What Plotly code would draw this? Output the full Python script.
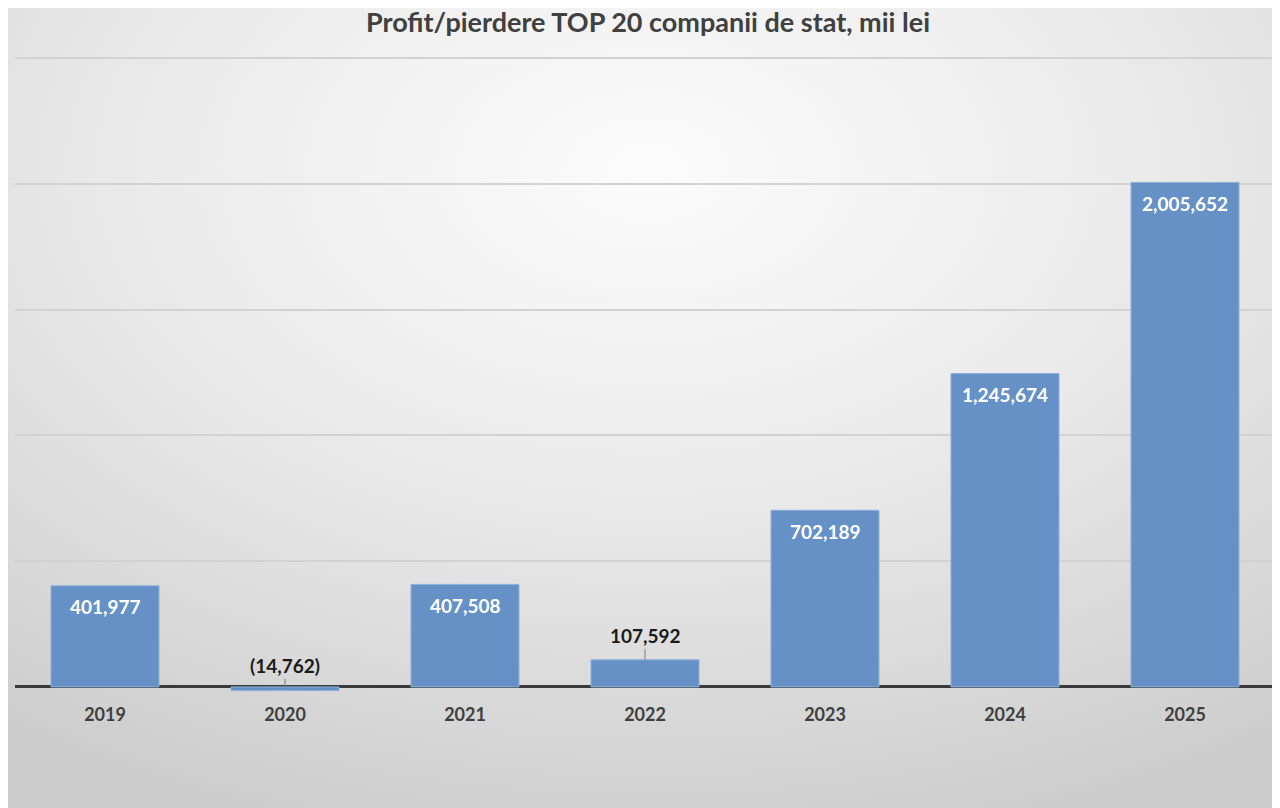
import base64
import plotly.graph_objects as go

years = ["2019", "2020", "2021", "2022", "2023", "2024", "2025"]
profit = [401977, -14762, 407508, 107592, 702189, 1245674, 2005652]

title = "Profit/pierdere TOP 20 companii de stat, mii lei"
bar_color = "#6591c7"
font_name = "Lato"


def fmt(v):
    # negative numbers shown in brackets, accounting style
    if v < 0:
        return "({:,})".format(-v)
    return "{:,}".format(v)


# soft grey radial background, lighter near the top centre
svg = """<svg xmlns='http://www.w3.org/2000/svg' width='1280' height='808' preserveAspectRatio='none'>
<defs><radialGradient id='g' cx='50%' cy='20%' r='85%'>
<stop offset='0%' stop-color='#fcfcfc'/>
<stop offset='50%' stop-color='#e9e9e9'/>
<stop offset='100%' stop-color='#cdcdcd'/>
</radialGradient></defs>
<rect width='1280' height='808' fill='url(#g)'/></svg>"""
bg_src = "data:image/svg+xml;base64," + base64.b64encode(svg.encode()).decode()

fig = go.Figure()
fig.add_trace(go.Bar(
    x=years, y=profit,
    marker=dict(color=bar_color, line=dict(color="#8fb0d8", width=1)),
    hoverinfo="x+y",
))

# value labels: white inside the tall bars, dark above the small ones
# (x given as category index, numeric-looking year strings confuse the category axis)
annotations = []
for i, v in enumerate(profit):
    if v > 300000:
        annotations.append(dict(x=i, y=v, text="<b>" + fmt(v) + "</b>", showarrow=False,
                                yanchor="middle", yshift=-21,
                                font=dict(family=font_name, size=19, color="white")))
    else:
        annotations.append(dict(x=i, y=max(v, 0), text="<b>" + fmt(v) + "</b>", showarrow=True,
                                arrowhead=0, arrowwidth=1, arrowcolor="#7f7f7f",
                                ax=0, ay=-24 if v > 0 else -21, standoff=0,
                                font=dict(family=font_name, size=19, color="#1a1a1a")))

# the page puts the figure 8px in from the top-left, margins allow for that
plot_l, plot_r, plot_t, plot_b = 7, 13, 45, 114
plot_w = 1280 - plot_l - plot_r
plot_h = 808 - plot_t - plot_b

fig.update_layout(
    width=1280, height=808,
    margin=dict(l=plot_l, r=plot_r, t=plot_t, b=plot_b, autoexpand=False),
    paper_bgcolor="#e2e2e2",
    plot_bgcolor="rgba(0,0,0,0)",
    title=dict(text="<b>" + title + "</b>", x=0.5, xanchor="center",
               y=1 - 5 / 808, yanchor="top",
               font=dict(family=font_name, size=27, color="#404040")),
    bargap=0.4,
    showlegend=False,
    annotations=annotations,
    images=[dict(source=bg_src, xref="paper", yref="paper",
                 x=-plot_l / plot_w, y=1 + plot_t / plot_h,
                 sizex=1280 / plot_w, sizey=808 / plot_h,
                 xanchor="left", yanchor="top", sizing="stretch", layer="below")],
    xaxis=dict(type="category", range=[-0.5, len(years) - 0.5],
               showgrid=False, showline=False, ticks="",
               tickfont=dict(family=font_name, size=18, color="#404040"),
               ticklabelstandoff=0,
               tickvals=years, ticktext=["<b>" + y + "</b>" for y in years]),
    yaxis=dict(range=[-60000, 2520000], dtick=500000, showticklabels=False,
               showgrid=True, gridcolor="#d2d2d2", gridwidth=1.5,
               zeroline=True, zerolinecolor="#3a3a3a", zerolinewidth=2.5),
)

fig.write_html("out.html")
